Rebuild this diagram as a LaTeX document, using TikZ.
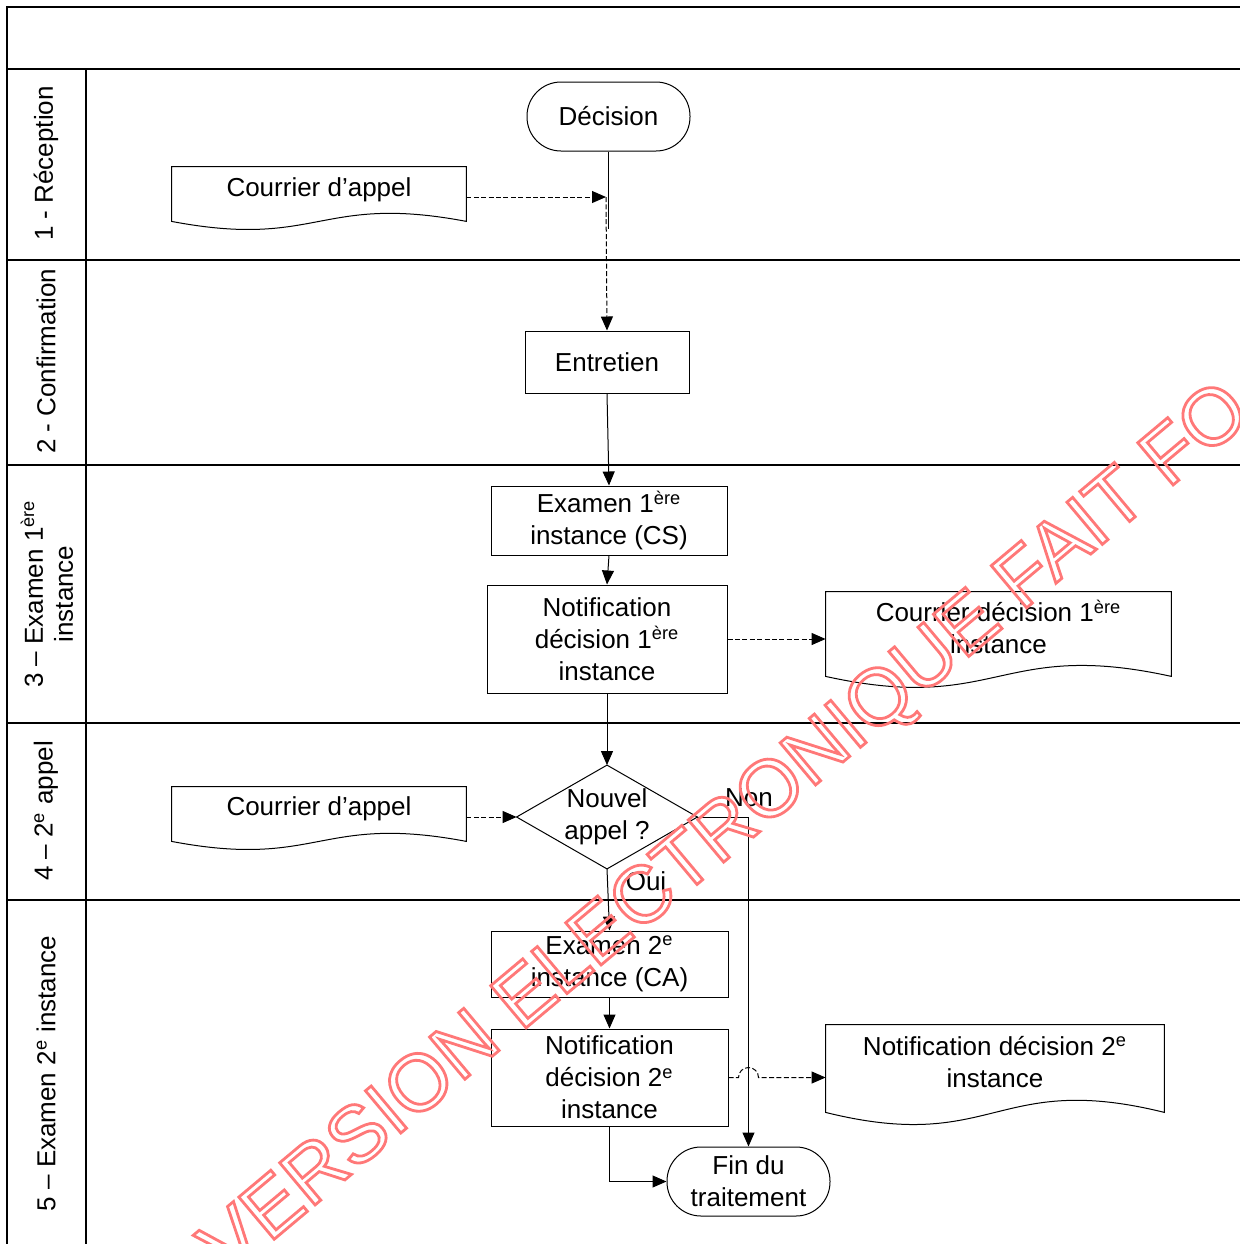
\documentclass[tikz,border=0pt]{standalone}
\usepackage{fontspec}
\setmainfont{Liberation Sans}
\usetikzlibrary{arrows.meta,calc}
\definecolor{wmred}{RGB}{255,120,120}
\newcommand\wmoutline[1]{\special{pdf:literal direct 1 Tr 1.4 w}#1\special{pdf:literal direct 0 Tr}}
\newcommand\docshape[3]{%
  \draw[shp] (#1.north west) -- (#1.north east) -- ($(#1.south east)+(0,#2)$)
    .. controls ($(#1.south)+(0,#2-#3)$) and ($(#1.south)+(0,#2+#3)$) .. ($(#1.south west)+(0,#2)$) -- cycle;}
\begin{document}
\begin{tikzpicture}[x=0.5pt,y=-0.5pt,
  every node/.style={font=\fontsize{13}{16}\selectfont, inner sep=0pt, align=center},
  shp/.style={draw, line width=0.5pt},
  box/.style={draw, line width=0.5pt, rectangle},
  term/.style={box, rounded corners=17pt, minimum width=81.5pt, minimum height=34.5pt},
  frame/.style={line width=0.7pt},
  conn/.style={line width=0.5pt, -{Triangle[length=7pt,width=6pt]}},
  dsh/.style={conn, dash pattern=on 2.5pt off 1.2pt},
  lane/.style={rotate=90}]
\useasboundingbox (0,0) rectangle (1240,1244);

% frame and lanes
\draw[frame] (1260,7) -- (7,7) -- (7,1260);
\foreach \yy in {69,260,465,723,900} \draw[frame] (7,\yy) -- (1260,\yy);
\draw[frame] (86,69) -- (86,1260);

\node[lane] (l1) at (46,163.5) {1 - Réception};
\node[lane] (l2) at (46,361.5) {2 - Confirmation};
\node[lane, font=\fontsize{13}{15}\selectfont] (l3) at (47,594) {3 – Examen 1\textsuperscript{ère}\\instance};
\node[lane] (l4) at (46,811) {4 – 2\textsuperscript{e} appel};
\node[lane] (l5) at (46,1073.5) {5 – Examen 2\textsuperscript{e} instance};

% nodes
\node[term] (dec) at (608.5,116.5) {Décision};
\node[minimum width=147pt, minimum height=23pt] (cour1) at (319,190) {Courrier d’appel};
\docshape{cour1}{8}{28}
\node[box, minimum width=82pt, minimum height=31pt] (ent) at (607,362) {Entretien};
\node[box, minimum width=118pt, minimum height=34.5pt] (ex1) at (609,520.5) {Examen 1\textsuperscript{ère}\\instance (CS)};
\node[box, minimum width=120pt, minimum height=54pt] (not1) at (607,639) {Notification\\décision 1\textsuperscript{ère}\\instance};
\node[minimum width=172.5pt, minimum height=35pt] (cd1) at (998.5,627) {Courrier décision 1\textsuperscript{ère}\\instance};
\docshape{cd1}{14}{38}
\node[minimum width=147pt, minimum height=22pt] (cour2) at (319,809) {Courrier d’appel};
\docshape{cour2}{10}{28}
\node[minimum width=90pt, minimum height=51.5pt] (nouv) at (607,817) {Nouvel\\appel ?};
\draw[shp] (nouv.north) -- (nouv.east) -- (nouv.south) -- (nouv.west) -- cycle;
\node (oui) at (646,881) {Oui};
\node (non) at (749,798) {Non};
\node[box, minimum width=118.5pt, minimum height=33pt] (ex2) at (609.5,964) {Examen 2\textsuperscript{e}\\instance (CA)};
\node[box, minimum width=118.5pt, minimum height=48.5pt] (not2) at (609.5,1077.5) {Notification\\décision 2\textsuperscript{e}\\instance};
\node[term] (fin) at (748.5,1181.5) {Fin du\\traitement};
\node[minimum width=169pt, minimum height=37pt] (nd2) at (995,1062) {Notification décision 2\textsuperscript{e}\\instance};
\docshape{nd2}{13}{42}

% connectors
\coordinate (j1) at (606,197);
\coordinate (j2) at (608.5,229);
\draw[line width=0.5pt] (dec.south) -- (j2);
\draw[dsh] (cour1.east |- j1) -- (j1);
\draw[dsh] (j1) -- (ent.north);
\draw[conn] (ent.south) -- (ex1.north);
\draw[conn] (ex1.south) -- (not1.north);
\draw[dsh] (not1.east) -- (not1.east -| cd1.west);
\draw[conn] (not1.south) -- (nouv.north);
\draw[dsh] (cour2.east |- nouv.west) -- (nouv.west);
\draw[conn] (nouv.south) -- (ex2.north);
\draw[conn] (nouv.east) -| (fin.north);
\draw[conn] (ex2.south) -- (not2.north);
\draw[conn] (not2.south) |- (fin.west);
\draw[dsh] (not2.east) -- ($(not2.east -| fin.north)+(-10,0)$) arc[start angle=180,end angle=0,radius=5pt] -- (nd2.west |- not2.east);

% watermark
\node[rotate=40, anchor=base west, text=wmred, font=\fontsize{40}{40}\selectfont] (wm) at (228,1278) {\wmoutline{VERSION ELECTRONIQUE FAIT FO}};
\end{tikzpicture}
\end{document}
